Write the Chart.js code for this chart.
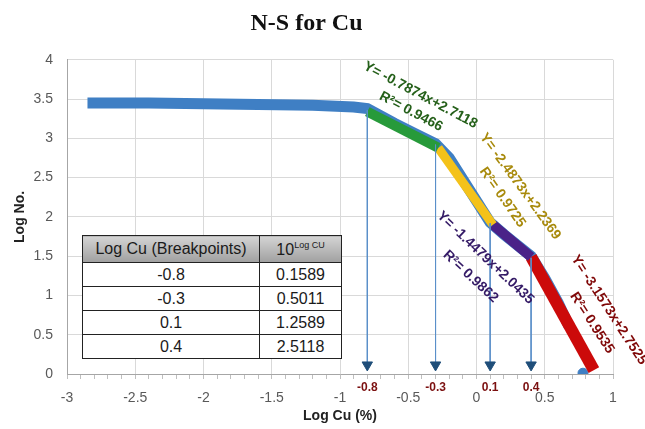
<!DOCTYPE html>
<html>
<head>
<title>N-S for Cu</title>
<script src="https://cdn.jsdelivr.net/npm/chart.js"></script>
<style>
  body { margin: 0; background: #fff; }
  #wrap { position: relative; width: 645px; height: 429px; }
  #tbl { position: absolute; left: 82px; top: 235px; border-collapse: collapse;
         font-family: "Liberation Sans", Arial, sans-serif; font-size: 16px; color: #1a1a1a; background: #fff; }
  #tbl td, #tbl th { border: 1.5px solid #222; text-align: center; padding: 0; font-weight: normal; height: 23px; }
  #tbl th { height: 26px; background: linear-gradient(#d4d4d4, #a0a0a0); }
  #tbl sup { font-size: 9px; vertical-align: 7px; }
</style>
</head>
<body>
<div id="wrap">
  <canvas id="nsChart" width="645" height="429"></canvas>
  <table id="tbl">
    <thead><tr><th style="width:176px">Log Cu (Breakpoints)</th><th style="width:81px">10<sup>Log CU</sup></th></tr></thead>
    <tbody id="tbody"></tbody>
  </table>
</div>
<script>
// measured curve (blue)
const curveX = [-2.85, -2.4, -2.0, -1.6, -1.2, -0.9, -0.8, -0.6, -0.45, -0.3, -0.2, -0.05, 0.1, 0.2, 0.3, 0.4, 0.5, 0.6, 0.68];
const curveY = [3.45, 3.45, 3.44, 3.43, 3.42, 3.40, 3.38, 3.19, 3.06, 2.93, 2.75, 2.34, 1.93, 1.78, 1.64, 1.50, 1.22, 0.90, 0.60];
// last measured point
const lastX = [0.78];
const lastY = [0.01];

// fitted segments between breakpoints
const segX = [-0.8, -0.28, 0.12, 0.4, 0.86];
const segY = [3.34, 2.88, 1.90, 1.49, 0.05];
const segColors = ['#279a3a', '#f4c21a', '#4a2288', '#cc0a0a'];
const segWidths = [10, 9, 10, 12];

// breakpoints and arrows
const breakX = [-0.8, -0.3, 0.1, 0.4];
const breakTopY = [3.36, 2.92, 1.92, 1.48];
const breakLabels = ['-0.8', '-0.3', '0.1', '0.4'];
const breakPow = ['0.1589', '0.5011', '1.2589', '2.5118'];

// regression equations
const eqTexts = ['Y= -0.7874x+2.7118', 'R\u00b2= 0.9466',
                 'Y= -2.4873x+2.2369', 'R\u00b2= 0.9725',
                 'Y= -1.4479x+2.0435', 'R\u00b2= 0.9862',
                 'Y= -3.1573x+2.7525', 'R\u00b2= 0.9535'];
const eqX = [-0.41, -0.48, 0.32, 0.19, 0.066, -0.044, 0.97, 0.846];
const eqY = [3.55, 3.34, 2.39, 2.25, 1.48, 1.24, 0.815, 0.65];
const eqAngle = [28, 28, 54, 55, 43.5, 43, 57, 57];
const eqColors = ['#25601a', '#25601a', '#a88a0c', '#a88a0c', '#341a66', '#341a66', '#800808', '#800808'];

const tbody = document.getElementById('tbody');
breakLabels.forEach((b, i) => {
  tbody.innerHTML += '<tr><td>' + b + '</td><td>' + breakPow[i] + '</td></tr>';
});

const datasets = [];
breakX.forEach((bx, i) => {
  datasets.push({
    data: [{x: bx, y: breakTopY[i]}, {x: bx, y: 0.115}],
    showLine: true, borderColor: '#5b8fc9', borderWidth: 1,
    pointRadius: [0, 6], pointStyle: 'triangle', rotation: 180,
    pointBackgroundColor: '#1f4e79', pointBorderColor: '#1f4e79'
  });
});
for (let i = 0; i < segColors.length; i++) {
  datasets.push({
    data: [{x: segX[i], y: segY[i]}, {x: segX[i + 1], y: segY[i + 1]}],
    showLine: true, borderColor: segColors[i], borderWidth: segWidths[i],
    borderCapStyle: 'butt', pointRadius: 0
  });
}
datasets.push({
  data: lastX.map((x, i) => ({x: x, y: lastY[i]})),
  pointRadius: 5, pointBackgroundColor: '#3f7fc4', pointBorderColor: '#3f7fc4'
});
datasets.push({
  data: curveX.map((x, i) => ({x: x, y: curveY[i]})),
  showLine: true, borderColor: '#3f7fc4', borderWidth: 11, borderCapStyle: 'butt',
  pointRadius: 0
});

const extraText = {
  id: 'extraText',
  afterDraw(chart) {
    const {ctx, scales: {x, y}, chartArea} = chart;
    ctx.save();
    ctx.font = 'bold 12px "Liberation Sans"';
    ctx.fillStyle = '#7b1010';
    ctx.textAlign = 'center';
    ctx.textBaseline = 'middle';
    breakX.forEach((bx, i) => ctx.fillText(breakLabels[i], x.getPixelForValue(bx), chartArea.bottom + 14));
    ctx.font = 'bold 14px "Liberation Sans"';
    eqTexts.forEach((t, i) => {
      ctx.save();
      ctx.translate(x.getPixelForValue(eqX[i]), y.getPixelForValue(eqY[i]));
      ctx.rotate(eqAngle[i] * Math.PI / 180);
      ctx.fillStyle = eqColors[i];
      ctx.fillText(t, 0, 0);
      ctx.restore();
    });
    ctx.restore();
  }
};

new Chart(document.getElementById('nsChart').getContext('2d'), {
  type: 'scatter',
  data: { datasets: datasets },
  plugins: [extraText],
  options: {
    responsive: false,
    animation: false,
    layout: { padding: { right: 32 } },
    plugins: {
      legend: { display: false },
      tooltip: { enabled: false },
      title: {
        display: true, text: 'N-S for Cu', color: '#111',
        font: { family: 'Liberation Serif', size: 24, weight: 'bold' },
        padding: { top: 9, bottom: 22 }
      }
    },
    scales: {
      x: {
        min: -3, max: 1,
        afterFit: s => { s.height = 55; },
        ticks: {
          stepSize: 0.1, autoSkip: false, maxRotation: 0, padding: 11,
          color: '#595959', font: { family: 'Liberation Sans', size: 14 },
          callback: v => Math.round(v * 10) % 5 === 0 ? String(Math.round(v * 10) / 10) : ''
        },
        grid: {
          color: c => Math.round(c.tick.value * 10) % 5 === 0 ? '#d9d9d9' : 'rgba(0,0,0,0)',
          tickColor: '#bfbfbf', tickLength: 5
        },
        border: { color: '#a6a6a6' },
        title: {
          display: true, text: 'Log Cu (%)', color: '#222',
          font: { family: 'Liberation Sans', size: 14, weight: 'bold' },
          padding: { top: 0, bottom: 4 }
        }
      },
      y: {
        min: 0, max: 4,
        afterFit: s => { s.width = 67; },
        ticks: {
          stepSize: 0.5, padding: 14, color: '#595959',
          font: { family: 'Liberation Sans', size: 14 },
          callback: v => String(Math.round(v * 10) / 10)
        },
        grid: { color: '#d9d9d9', drawTicks: false },
        border: { color: '#a6a6a6' },
        title: {
          display: true, text: 'Log No.', color: '#222',
          font: { family: 'Liberation Sans', size: 14, weight: 'bold' },
          padding: { top: 12, bottom: 0 }
        }
      }
    }
  }
});
</script>
</body>
</html>
